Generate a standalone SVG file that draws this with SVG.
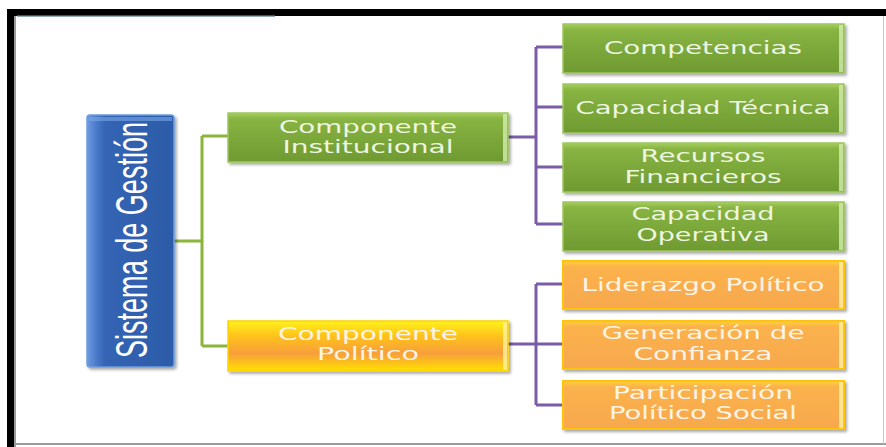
<svg xmlns="http://www.w3.org/2000/svg" width="886" height="447" viewBox="0 0 886 447">
<defs>
<linearGradient id="gGreen" x1="0" y1="0" x2="0" y2="1">
<stop offset="0" stop-color="#a6cf5c"/>
<stop offset="0.12" stop-color="#88b443"/>
<stop offset="1" stop-color="#6e9a31"/>
</linearGradient>
<linearGradient id="gOrange" x1="0" y1="0" x2="0" y2="1">
<stop offset="0" stop-color="#ffd23a"/>
<stop offset="0.12" stop-color="#fbb24c"/>
<stop offset="1" stop-color="#f7a84e"/>
</linearGradient>
<linearGradient id="gPol" x1="0" y1="0" x2="0" y2="1">
<stop offset="0" stop-color="#fff21a"/>
<stop offset="0.3" stop-color="#ffc21c"/>
<stop offset="0.65" stop-color="#f89e3c"/>
<stop offset="1" stop-color="#ffe100"/>
</linearGradient>
<linearGradient id="gBlue" x1="0" y1="0" x2="1" y2="0">
<stop offset="0" stop-color="#6d9be0"/>
<stop offset="0.12" stop-color="#4677c8"/>
<stop offset="0.2" stop-color="#3565b4"/>
<stop offset="1" stop-color="#2c5ba8"/>
</linearGradient>
<filter id="sh" x="-10%" y="-10%" width="120%" height="130%">
<feDropShadow dx="2" dy="2" stdDeviation="1.5" flood-color="#000" flood-opacity="0.35"/>
</filter>
</defs>
<style>
.green{fill:url(#gGreen);stroke:#9fc65f;stroke-width:1.5}
.orange{fill:url(#gOrange);stroke:#ffc20e;stroke-width:2}
.pol{fill:url(#gPol);stroke:#ffd400;stroke-width:1.5}
.hlG{fill:#d4eeb0;opacity:0.8}
.hlO{fill:#fff3a0;opacity:0.8}
.t{font-family:"DejaVu Sans",Verdana,sans-serif;font-size:18px;text-anchor:middle}
.tg{fill:#eef6e2}
.to{fill:#fff4e6}
.cg{fill:none;stroke:#8ab43a;stroke-width:3}
.cp{fill:none;stroke:#7b5ca8;stroke-width:3}
</style>
<rect x="0" y="0" width="886" height="447" fill="#ffffff"/>
<g id="frame">
<rect x="7" y="9" width="879" height="7" fill="#000"/>
<rect x="7" y="9" width="7" height="438" fill="#000"/>
<rect x="14" y="16" width="2" height="431" fill="#9a9a9a"/>
<rect x="17" y="15" width="258" height="1.5" fill="#2a5a70"/>
<rect x="14" y="443" width="872" height="2" fill="#9a9a9a"/>
<rect x="883" y="16" width="1" height="428" fill="#c8c8c8"/>
</g>
<g id="connectors">
<path class="cg" d="M174,241 H202 M202,136 V346 M202,136 H228 M202,346 H228"/>
<path class="cp" d="M508,137 H536 M536,47 V224 M536,47 H563 M536,107 H563 M536,167 H563 M536,224 H563"/>
<path class="cp" d="M508,344 H536 M536,284 V405 M536,284 H563 M536,344 H563 M536,405 H563"/>
</g>
<g id="sistema">
<rect x="87" y="115" width="87" height="252" rx="3" fill="url(#gBlue)" stroke="#6f9de0" stroke-width="1.5" filter="url(#sh)"/>
<rect x="89" y="117" width="83" height="4" fill="#7aa8ea" opacity="0.6"/>
<text transform="translate(147,240) rotate(-90) scale(0.615,1)" text-anchor="middle" font-family="Liberation Sans,Arial,sans-serif" font-size="44" fill="#ffffff">Sistema de Gestión</text>
</g>
<g id="comp-institucional">
<rect class="green" x="228" y="113" width="280" height="49" filter="url(#sh)"/>
<rect class="hlG" x="503" y="114" width="4" height="47"/>
<text class="t tg" x="368" y="133" textLength="178" lengthAdjust="spacingAndGlyphs">Componente</text>
<text class="t tg" x="368" y="153" textLength="171" lengthAdjust="spacingAndGlyphs">Institucional</text>
</g>
<g id="comp-politico">
<rect class="pol" x="228" y="321" width="280" height="50" filter="url(#sh)"/>
<rect class="hlO" x="503" y="322" width="4" height="48"/>
<text class="t to" x="368" y="340" textLength="180" lengthAdjust="spacingAndGlyphs">Componente</text>
<text class="t to" x="368" y="360" textLength="102" lengthAdjust="spacingAndGlyphs">Político</text>
</g>
<g id="competencias">
<rect class="green" x="563" y="24" width="281" height="49" filter="url(#sh)"/>
<rect class="hlG" x="839" y="25" width="4" height="47"/>
<text class="t tg" x="703" y="54" textLength="198" lengthAdjust="spacingAndGlyphs">Competencias</text>
</g>
<g id="capacidad-tecnica">
<rect class="green" x="563" y="84" width="281" height="49" filter="url(#sh)"/>
<rect class="hlG" x="839" y="85" width="4" height="47"/>
<text class="t tg" x="703" y="114" textLength="255" lengthAdjust="spacingAndGlyphs">Capacidad Técnica</text>
</g>
<g id="recursos-financieros">
<rect class="green" x="563" y="143" width="281" height="49" filter="url(#sh)"/>
<rect class="hlG" x="839" y="144" width="4" height="47"/>
<text class="t tg" x="703" y="162" textLength="125" lengthAdjust="spacingAndGlyphs">Recursos</text>
<text class="t tg" x="703" y="183" textLength="157" lengthAdjust="spacingAndGlyphs">Financieros</text>
</g>
<g id="capacidad-operativa">
<rect class="green" x="563" y="202" width="281" height="49" filter="url(#sh)"/>
<rect class="hlG" x="839" y="203" width="4" height="47"/>
<text class="t tg" x="703" y="220" textLength="143" lengthAdjust="spacingAndGlyphs">Capacidad</text>
<text class="t tg" x="703" y="241" textLength="133" lengthAdjust="spacingAndGlyphs">Operativa</text>
</g>
<g id="liderazgo-politico">
<rect class="orange" x="563" y="261" width="281" height="48" filter="url(#sh)"/>
<rect class="hlO" x="839" y="262" width="4" height="46"/>
<text class="t to" x="703" y="291" textLength="243" lengthAdjust="spacingAndGlyphs">Liderazgo Político</text>
</g>
<g id="generacion-confianza">
<rect class="orange" x="563" y="321" width="281" height="48" filter="url(#sh)"/>
<rect class="hlO" x="839" y="322" width="4" height="46"/>
<text class="t to" x="703" y="339" textLength="203" lengthAdjust="spacingAndGlyphs">Generación de</text>
<text class="t to" x="703" y="360" textLength="139" lengthAdjust="spacingAndGlyphs">Confianza</text>
</g>
<g id="participacion-politico-social">
<rect class="orange" x="563" y="381" width="281" height="48" filter="url(#sh)"/>
<rect class="hlO" x="839" y="382" width="4" height="46"/>
<text class="t to" x="703" y="399" textLength="180" lengthAdjust="spacingAndGlyphs">Participación</text>
<text class="t to" x="703" y="419" textLength="188" lengthAdjust="spacingAndGlyphs">Político Social</text>
</g>
</svg>
